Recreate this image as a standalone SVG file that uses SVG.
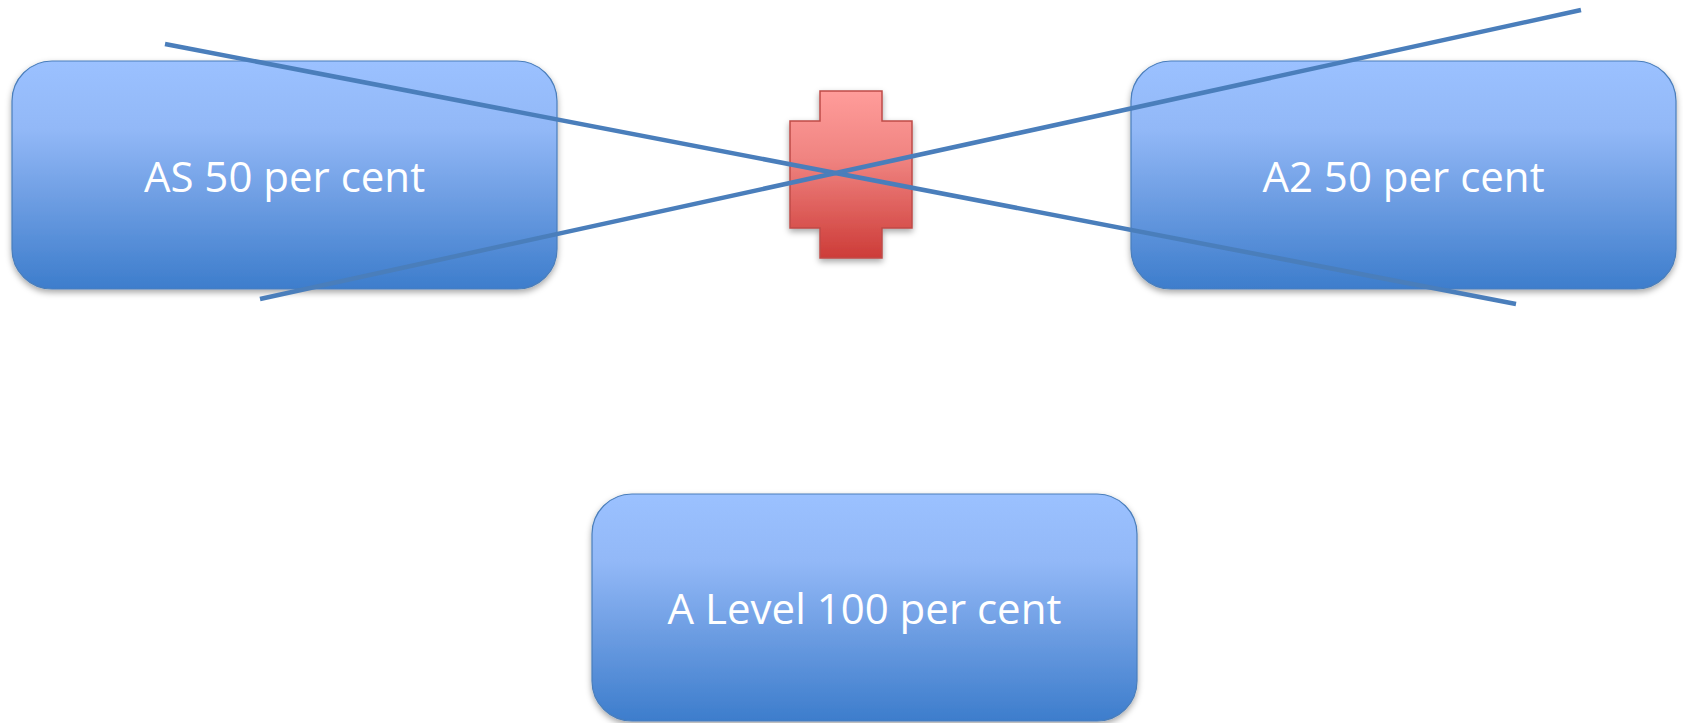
<svg xmlns="http://www.w3.org/2000/svg" width="1683" height="723" viewBox="0 0 1683 723">
  <defs>
    <linearGradient id="blueGrad" x1="0" y1="0" x2="0" y2="1">
      <stop offset="0" stop-color="#9bc1ff"/>
      <stop offset="0.3" stop-color="#92b8f7"/>
      <stop offset="0.6" stop-color="#6e9ee3"/>
      <stop offset="1" stop-color="#3d7dcc"/>
    </linearGradient>
    <linearGradient id="redGrad" x1="0" y1="0" x2="0" y2="1">
      <stop offset="0" stop-color="#ff9c9a"/>
      <stop offset="0.4" stop-color="#f08481"/>
      <stop offset="1" stop-color="#cd3c38"/>
    </linearGradient>
    <filter id="shadow" x="-10%" y="-10%" width="120%" height="130%">
      <feDropShadow dx="0" dy="3" stdDeviation="3" flood-color="#000" flood-opacity="0.35"/>
    </filter>
  </defs>
  <style>
    .box { fill: url(#blueGrad); stroke: #4a7ebb; stroke-width: 1.2; filter: url(#shadow); }
    .cross { fill: url(#redGrad); stroke: #be4b48; stroke-width: 1.5; filter: url(#shadow); }
    .label { font-family: "Open Sans", "Liberation Sans", sans-serif; font-size: 42px; fill: #ffffff; text-anchor: middle; }
    .strike { stroke: #4a7ebb; stroke-width: 4.5; fill: none; }
  </style>
  <rect width="1683" height="723" fill="#ffffff"/>

  <g id="node-as">
    <rect class="box" x="12" y="61" width="545" height="228" rx="40" ry="40"/>
    <text class="label" x="284.5" y="192">AS 50 per cent</text>
  </g>

  <g id="node-a2">
    <rect class="box" x="1131" y="61" width="545" height="228" rx="40" ry="40"/>
    <text class="label" x="1403.5" y="192">A2 50 per cent</text>
  </g>

  <g id="node-plus">
    <path class="cross" d="M820,91 H882 V121 H912 V228 H882 V258 H820 V228 H790 V121 H820 Z"/>
  </g>

  <g id="node-alevel">
    <rect class="box" x="592" y="494" width="545" height="227" rx="40" ry="40"/>
    <text class="label" x="864.5" y="624">A Level 100 per cent</text>
  </g>

  <g id="connectors">
    <line class="strike" x1="165" y1="44" x2="1516" y2="304"/>
    <line class="strike" x1="260" y1="299" x2="1581" y2="10"/>
  </g>
</svg>
